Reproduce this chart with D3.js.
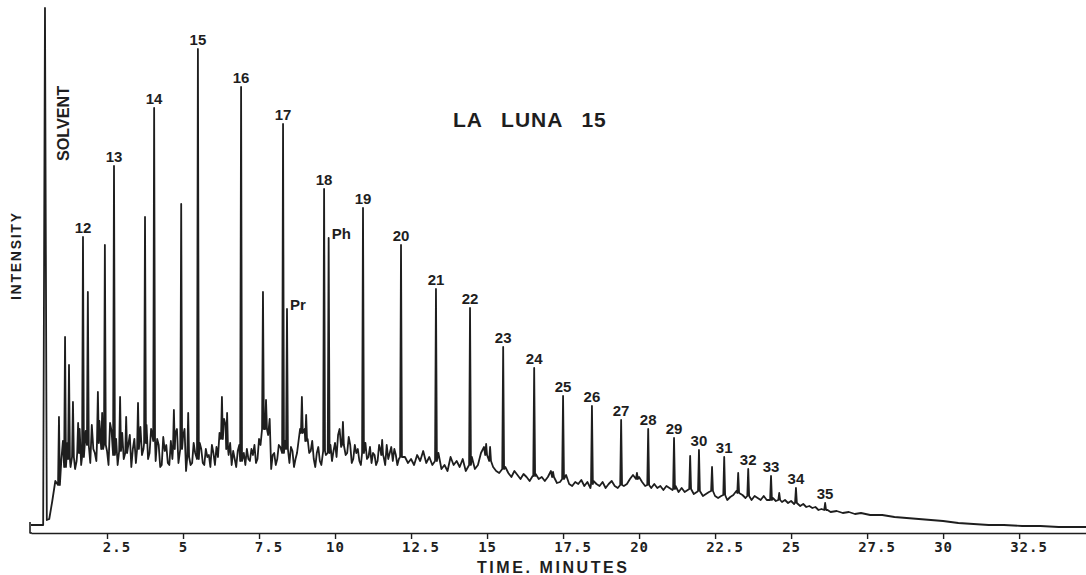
<!DOCTYPE html>
<html><head><meta charset="utf-8">
<script src="https://cdn.jsdelivr.net/npm/d3@7"></script>
<style>body{margin:0;background:#fff}svg{display:block}</style>
</head><body>
<svg id="chart" width="1086" height="575"></svg>
<script>
// ---------- data (time in minutes, intensity in arbitrary units) ----------
const chartTitle = "LA LUNA 15";
const xLabel = "TIME. MINUTES";
const yLabel = "INTENSITY";
const solventLabel = "SOLVENT";
const xTicks = [2.5, 5, 7.5, 10, 12.5, 15, 17.5, 20, 22.5, 25, 27.5, 30, 32.5];

const solventPeak = [0.46, 521];

// labelled peaks: [time, foot intensity, apex intensity, label]
const labeledPeaks = [
  [1.71, 72, 292, "12"], [2.73, 74, 363, "13"], [4.05, 88, 421, "14"], [5.49, 70, 480, "15"],
  [6.91, 68, 442, "16"], [8.29, 76, 405, "17"], [8.42, 80, 220, "Pr"], [9.64, 78, 340, "18"],
  [9.79, 76, 291, "Ph"], [10.92, 76, 321, "19"], [12.17, 72, 284, "20"], [13.32, 68, 240, "21"],
  [14.44, 64, 221, "22"], [15.53, 60, 182, "23"], [16.55, 53, 161, "24"], [17.50, 50, 133, "25"],
  [18.45, 45, 123, "26"], [19.41, 44, 109, "27"], [20.30, 44, 100, "28"], [21.15, 40, 91, "29"],
  [21.97, 38, 79, "30"], [22.80, 34, 72, "31"], [23.59, 33, 60, "32"], [24.34, 29, 53, "33"],
  [25.16, 26, 41, "34"], [26.12, 19, 26, "35"]
];

// unlabelled sharp peaks: [time, foot intensity, apex intensity]
const minorPeaks = [
  [0.92, 44, 112], [1.12, 62, 192], [1.25, 70, 164], [1.38, 72, 127], [1.55, 76, 106],
  [1.87, 84, 237], [2.20, 86, 137], [2.34, 80, 116], [2.43, 84, 284], [2.93, 78, 132],
  [3.13, 76, 112], [3.52, 80, 126], [3.75, 86, 312], [4.70, 80, 119], [4.94, 80, 325],
  [5.17, 72, 116], [6.28, 90, 132], [6.45, 80, 116], [7.63, 100, 237], [7.73, 100, 129],
  [8.91, 96, 132], [9.05, 88, 114], [10.26, 84, 107], [11.55, 74, 89], [14.97, 74, 85],
  [15.10, 68, 82], [17.17, 52, 57], [19.93, 50, 56], [21.68, 40, 73], [22.40, 38, 62],
  [23.26, 36, 56], [24.61, 29, 36]
];

// baseline / unresolved hump: [time, intensity]
const baseline = [
  [0,4],[0.40,4],[0.52,9],[0.6,10],[0.7,28],[0.8,48],[0.9,40],[1.0,70],[1.1,52],[1.2,86],[1.3,62],[1.4,96],
  [1.5,68],[1.6,100],[1.7,72],[1.8,98],[1.9,70],[2.0,104],[2.1,76],[2.2,96],[2.3,70],[2.4,100],[2.5,78],
  [2.6,106],[2.7,74],[2.8,90],[2.9,68],[3.0,96],[3.1,72],[3.2,84],[3.3,62],[3.4,90],[3.5,76],[3.6,102],
  [3.7,80],[3.8,104],[3.9,76],[4.0,92],[4.1,68],[4.2,84],[4.3,64],[4.4,78],[4.5,66],[4.6,88],[4.7,74],
  [4.8,100],[4.9,78],[5.0,92],[5.1,58],[5.2,82],[5.3,66],[5.4,76],[5.5,68],[5.6,80],[5.7,64],[5.8,72],
  [5.9,62],[6.0,76],[6.1,82],[6.2,96],[6.3,88],[6.4,104],[6.5,74],[6.6,64],[6.7,70],[6.8,78],[6.9,66],
  [7.0,76],[7.1,80],[7.2,68],[7.3,74],[7.4,66],[7.5,90],[7.6,108],[7.7,116],[7.8,94],[7.9,60],[8.0,76],
  [8.1,70],[8.2,82],[8.3,72],[8.4,84],[8.5,66],[8.6,78],[8.7,70],[8.8,88],[8.9,110],[9.0,100],[9.1,90],
  [9.2,78],[9.3,70],[9.4,76],[9.5,68],[9.6,80],[9.7,74],[9.8,78],[9.9,68],[10.0,86],[10.1,94],[10.2,82],
  [10.3,90],[10.4,76],[10.5,84],[10.6,70],[10.7,76],[10.8,68],[10.9,78],[11.0,86],[11.1,72],[11.2,66],
  [11.3,74],[11.4,68],[11.5,78],[11.6,72],[11.7,84],[11.8,76],[11.9,68],[12.0,74],[12.1,70],[12.2,80],
  [12.3,72],[12.4,66],[12.5,70],[12.6,64],[12.7,74],[12.8,68],[12.9,78],[13.0,66],[13.1,72],[13.2,64],
  [13.3,70],[13.4,76],[13.5,60],[13.6,64],[13.7,58],[13.8,72],[13.9,64],[14.0,68],[14.1,62],[14.2,70],
  [14.3,58],[14.4,66],[14.5,72],[14.6,60],[14.7,64],[14.8,76],[14.9,82],[15.0,74],[15.1,68],[15.2,62],
  [15.3,58],[15.4,56],[15.5,60],[15.6,62],[15.7,56],[15.8,52],[15.9,58],[16.0,54],[16.1,50],[16.2,55],
  [16.3,52],[16.4,48],[16.5,53],[16.6,55],[16.7,50],[16.8,52],[16.9,48],[17.0,52],[17.1,58],[17.2,50],
  [17.3,46],[17.4,47],[17.5,50],[17.6,54],[17.7,45],[17.8,43],[17.9,47],[18.0,45],[18.1,49],[18.2,43],
  [18.3,47],[18.4,41],[18.5,48],[18.6,45],[18.7,43],[18.8,47],[18.9,41],[19.0,45],[19.1,48],[19.2,43],
  [19.3,41],[19.4,46],[19.5,43],[19.6,45],[19.7,50],[19.8,54],[19.9,49],[20.0,52],[20.1,47],[20.2,43],
  [20.3,45],[20.4,41],[20.5,45],[20.6,41],[20.7,43],[20.8,39],[20.9,43],[21.0,41],[21.1,39],[21.2,43],
  [21.3,37],[21.4,41],[21.5,37],[21.6,39],[21.7,41],[21.8,35],[21.9,37],[22.0,39],[22.1,33],[22.2,35],
  [22.3,37],[22.4,43],[22.5,33],[22.6,31],[22.7,33],[22.8,35],[22.9,29],[23.0,32],[23.1,34],[23.2,38],
  [23.3,42],[23.4,34],[23.5,31],[23.6,35],[23.7,29],[23.8,33],[23.9,31],[24.0,29],[24.1,33],[24.2,29],
  [24.3,27],[24.4,31],[24.5,28],[24.6,33],[24.7,27],[24.8,29],[24.9,26],[25.0,28],[25.1,25],[25.2,28],
  [25.3,23],[25.4,25],[25.5,22],[25.6,23],[25.7,21],[25.8,22],[25.9,19],[26.0,20],[26.2,19],[26.3,17],
  [26.5,18],[26.7,16],[26.9,17],[27.1,15],[27.3,16],[27.6,14],[28.0,14],[28.4,12],[28.8,11],[29.2,10],
  [29.6,9],[30.0,8],[30.5,6],[31.0,5],[31.5,4],[32.0,4],[32.6,3],[33.2,3],[33.8,2],[34.7,2]
];

// finer readings in the dense early region: [time, intensity]
const baselineFine = [
  [0.95,62],[1.05,88],[1.15,58],[1.35,92],[1.45,60],[1.65,64],[1.75,104],[1.95,66],[2.05,80],[2.15,68],
  [2.25,108],[2.55,64],[2.65,98],[2.85,64],[3.05,70],[3.25,94],[3.35,80],[3.45,66],[3.65,74],[3.85,70],
  [3.95,100],[4.15,90],[4.25,62],[4.35,92],[4.45,84],[4.55,64],[4.65,70],[4.75,96],[4.85,66],[5.05,100],
  [5.25,64],[5.35,86],[5.45,60],[5.55,86],[5.65,66],[5.75,80],[5.85,74],[5.95,84],[6.05,64],[6.15,72],
  [6.25,80],[6.35,110],[6.55,86],[6.65,78],[6.75,62],[6.85,84],[6.95,80],[7.05,64],[7.15,70],[7.25,80],
  [7.35,84],[7.45,70],[7.55,84],[7.85,110],[7.95,74],[8.05,64],[8.15,84],[8.25,66],[8.35,88],[8.45,70],
  [8.55,82],[8.65,62],[8.75,76],[8.85,100],[8.95,84],[9.15,76],[9.25,88],[9.35,62],[9.45,82],[9.55,64],
  [9.75,66],[9.85,84],[9.95,78],[10.05,72],[10.15,100],[10.35,74],[10.45,92],[10.55,66],[10.65,84],
  [10.75,80],[10.85,64],[11.05,70],[11.15,82],[11.25,76],[11.35,64],[11.45,84],[11.65,64],[11.75,70],
  [11.85,82],[11.95,80],[12.05,64]
];

// ---------- drawing ----------
const ink = "#1e1e1e";
const sans = "'Liberation Sans', Arial, sans-serif";
const mono = "'DejaVu Sans Mono', 'Liberation Mono', monospace";
const halfWidth = 0.03;   // drawn half-width of a sharp peak (minutes)

const x = d3.scaleLinear().domain([0, 34.7]).range([31, 1086]);
const y = d3.scaleLinear().domain([0, 525]).range([529, 4]);
const svg = d3.select("#chart");
svg.append("rect").attr("width", 1086).attr("height", 575).attr("fill", "#fff");

// build trace: baseline readings, with sharp peaks drawn over them
const spikes = labeledPeaks.map(d => d.slice(0, 3)).concat(minorPeaks);
const spikePts = [];
spikes.forEach(([t, foot, apex]) => {
  spikePts.push({t: t - halfWidth, v: foot}, {t: t, v: apex}, {t: t + halfWidth, v: foot});
});
const nearSpike = t => spikes.some(s => Math.abs(s[0] - t) < halfWidth + 0.012);
const merged = baseline.concat(baselineFine)
  .map(d => ({t: d[0], v: d[1]}))
  .filter(d => !nearSpike(d.t))
  .concat([{t: solventPeak[0], v: solventPeak[1]}])
  .concat(spikePts)
  .sort((a, b) => a.t - b.t);

svg.append("path")
  .datum(merged)
  .attr("d", d3.line().x(d => x(d.t)).y(d => y(d.v)))
  .attr("fill", "none")
  .attr("stroke", ink)
  .attr("stroke-width", 1.8)
  .attr("stroke-linejoin", "round");

// axis
const axisY = 533;
const axis = d3.axisBottom(x).tickValues(xTicks).tickSizeInner(6).tickSizeOuter(0)
  .tickFormat(d => String(d));
const gx = svg.append("g").attr("transform", `translate(0,${axisY})`).call(axis);
gx.select(".domain").attr("stroke", ink).attr("stroke-width", 1.6);
gx.selectAll(".tick line").attr("stroke", ink).attr("stroke-width", 1.4);
const tickFont = 14, charW = 0.602 * tickFont + 1;
gx.selectAll(".tick text")
  .attr("fill", ink)
  .attr("font-family", mono)
  .attr("font-weight", "bold")
  .attr("font-size", tickFont)
  .attr("letter-spacing", 1)
  .attr("text-anchor", "start")
  .attr("dy", null)
  .attr("y", 19)
  .attr("x", d => -String(Math.floor(d)).length * charW / 2);

// left bracket
svg.append("line").attr("x1", 30).attr("x2", 30).attr("y1", 522).attr("y2", axisY + 0.5)
  .attr("stroke", ink).attr("stroke-width", 1.6);
svg.append("line").attr("x1", 30).attr("x2", 32).attr("y1", axisY).attr("y2", axisY)
  .attr("stroke", ink).attr("stroke-width", 1.6);

// peak labels
const isNum = s => /^\d+$/.test(s);
svg.append("g").selectAll("text").data(labeledPeaks).join("text")
  .attr("x", d => isNum(d[3]) ? x(d[0]) : x(d[0]) + 3)
  .attr("y", d => isNum(d[3]) ? y(d[2]) - 4 : y(d[2]) + 1)
  .attr("text-anchor", d => isNum(d[3]) ? "middle" : "start")
  .attr("font-family", sans).attr("font-weight", "bold").attr("font-size", 15)
  .attr("fill", ink)
  .text(d => d[3]);

// solvent label
svg.append("text")
  .attr("transform", `translate(${x(solventPeak[0]) + 24},161) rotate(-90)`)
  .attr("font-family", sans).attr("font-weight", "bold").attr("font-size", 17)
  .attr("textLength", 75).attr("lengthAdjust", "spacingAndGlyphs")
  .attr("fill", ink).text(solventLabel);

// y label
svg.append("text")
  .attr("transform", "translate(21,300) rotate(-90)")
  .attr("font-family", sans).attr("font-weight", "bold").attr("font-size", 14)
  .attr("textLength", 87).attr("lengthAdjust", "spacing")
  .attr("fill", ink).text(yLabel);

// x label
svg.append("text")
  .attr("x", 477).attr("y", 573)
  .attr("font-family", sans).attr("font-weight", "bold").attr("font-size", 16)
  .attr("textLength", 150).attr("lengthAdjust", "spacing")
  .attr("fill", ink).text(xLabel);

// title
svg.append("text")
  .attr("x", 453).attr("y", 127)
  .attr("font-family", sans).attr("font-weight", "bold").attr("font-size", 21)
  .attr("letter-spacing", 1).attr("word-spacing", 12)
  .attr("fill", ink).text(chartTitle);
</script>
</body></html>
